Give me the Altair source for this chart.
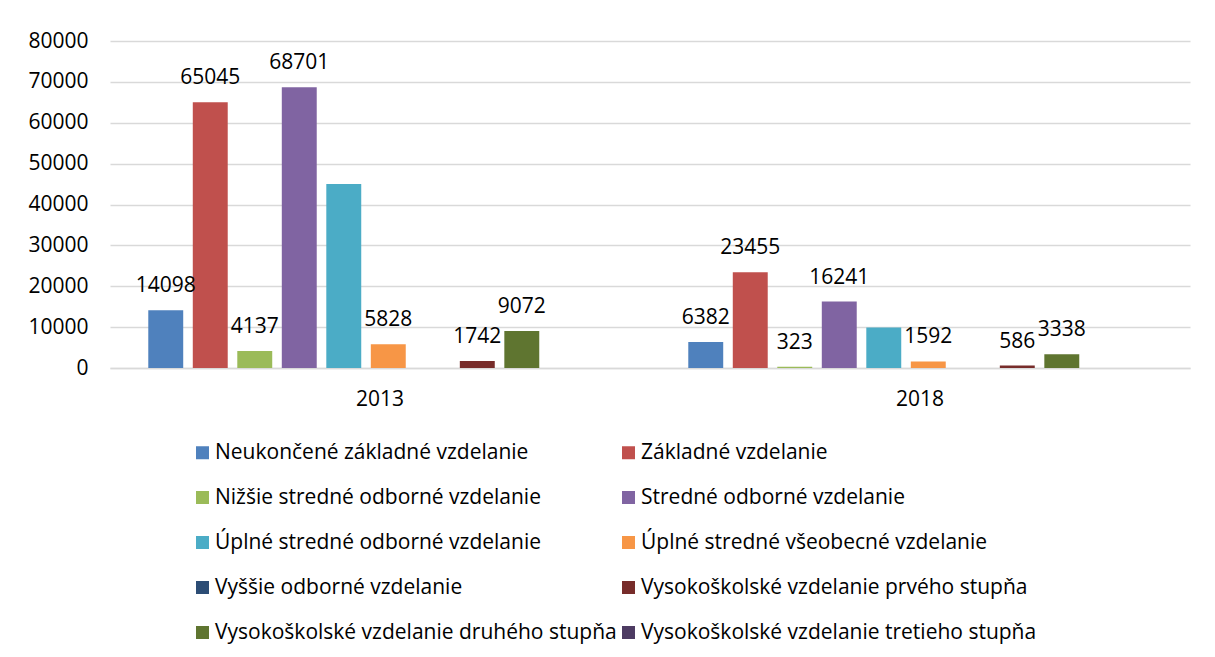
import altair as alt
import pandas as pd

categories = [
    "Neukončené základné vzdelanie",
    "Základné vzdelanie",
    "Nižšie stredné odborné vzdelanie",
    "Stredné odborné vzdelanie",
    "Úplné stredné odborné vzdelanie",
    "Úplné stredné všeobecné vzdelanie",
    "Vyššie odborné vzdelanie",
    "Vysokoškolské vzdelanie prvého stupňa",
    "Vysokoškolské vzdelanie druhého stupňa",
    "Vysokoškolské vzdelanie tretieho stupňa",
]
colors = ["#4F81BD", "#C0504D", "#9BBB59", "#8064A2", "#4BACC6",
          "#F79646", "#2C4D75", "#772C2A", "#5F7530", "#4D3B62"]
years = ["2013", "2018"]
values_2013 = [14098, 65045, 4137, 68701, 45000, 5828, None, 1742, 9072, None]
values_2018 = [6382, 23455, 323, 16241, 9900, 1592, None, 586, 3338, None]
labels_2013 = ["14098", "65045", "4137", "68701", "", "5828", "", "1742", "9072", ""]
labels_2018 = ["6382", "23455", "323", "16241", "", "1592", "", "586", "3338", ""]
y_ticks = [0, 10000, 20000, 30000, 40000, 50000, 60000, 70000, 80000]

rows = []
for yr, vals, labs in [(years[0], values_2013, labels_2013), (years[1], values_2018, labels_2018)]:
    for c, v, l in zip(categories, vals, labs):
        rows.append({"rok": yr, "kategoria": c, "hodnota": v, "label": l})
df = pd.DataFrame(rows)

FONT = "Open Sans"

x = alt.X("rok:N", title=None, sort=years,
          scale=alt.Scale(paddingInner=0.0287, paddingOuter=0.01435),
          axis=alt.Axis(labelAngle=0, ticks=False, domainColor="#D9D9D9", domainWidth=1.3,
                        labelFontSize=21, labelFont=FONT, labelColor="#000000",
                        labelPadding=20, grid=False))
xoff = alt.XOffset("kategoria:N", sort=categories,
                   scale=alt.Scale(paddingInner=0.215, paddingOuter=1, align=0.343))
y = alt.Y("hodnota:Q", title=None,
          scale=alt.Scale(domain=[0, 80000], nice=False),
          axis=alt.Axis(values=y_ticks, format="d", grid=True, gridColor="#D9D9D9", gridWidth=1.3,
                        domain=False, ticks=False, labelFontSize=21, labelFont=FONT,
                        labelColor="#000000", labelPadding=22))
color = alt.Color("kategoria:N", sort=categories,
                  scale=alt.Scale(domain=categories, range=colors),
                  legend=alt.Legend(title=None, orient="none", legendX=82, legendY=401,
                                    direction="horizontal",
                                    columns=2, symbolType="square", symbolSize=169,
                                    symbolStrokeWidth=0, labelFontSize=21, labelFont=FONT,
                                    labelColor="#000000", labelOffset=2, rowPadding=23,
                                    columnPadding=1, labelLimit=600))

bars = alt.Chart(df).mark_bar().encode(x=x, xOffset=xoff, y=y, color=color)
text = alt.Chart(df).mark_text(baseline="alphabetic", dy=-18, fontSize=21, font=FONT,
                               color="#000000").encode(
    x=x, xOffset=xoff, y=y, text="label:N")

chart = (bars + text).properties(
    width=1080, height=327,
    autosize=alt.AutoSizeParams(type="none"),
    padding={"left": 102, "top": 33, "right": 17, "bottom": 281},
    background="#FFFFFF",
).configure_view(stroke=None)

chart.save("out.html", embed_options={"renderer": "svg", "actions": False})
